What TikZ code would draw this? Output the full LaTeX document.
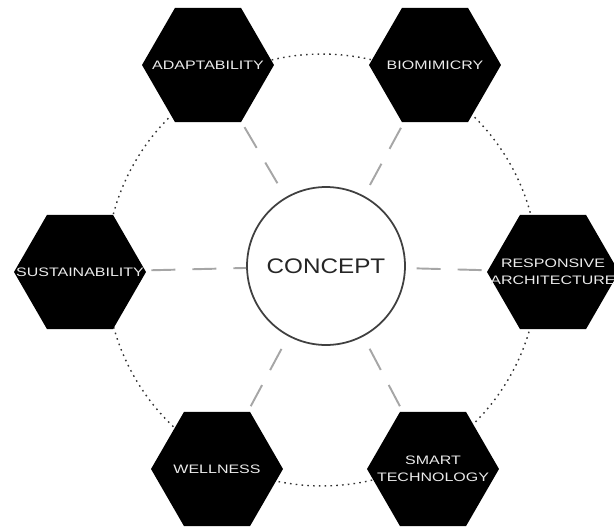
\documentclass[tikz,border=0pt]{standalone}
\usepackage{fontspec}
\setmainfont{Liberation Sans}
\newfontfamily\hexfont[FakeStretch=1.3]{Liberation Sans}
\newfontfamily\midfont[FakeStretch=1.15]{Liberation Sans}
\usetikzlibrary{shapes.geometric}

\begin{document}
\begin{tikzpicture}[x=0.02cm,y=-0.02cm,
 hx/.style={regular polygon,regular polygon sides=6,fill=black,inner sep=0pt,minimum size=2.64cm},
 ht/.style={text=white!92!black,align=center,inner sep=0pt,font=\hexfont\fontsize{7}{9.5}\selectfont},
 lk/.style={draw=gray!70,line width=1.1pt,dash pattern=on 0.48cm off 0.34cm,shorten <=0.12cm}]
\useasboundingbox (0,0) rectangle (614,530);
\draw[gray!40!black,line width=0.8pt,dash pattern=on 0.9pt off 2.4pt] (322,270) circle [radius=4.32cm];
\node[draw=black!75,line width=1pt,circle,minimum size=3.16cm,fill=white,
 font=\midfont\fontsize{12}{14}\selectfont,text=black!85] (c) at (326,266) {CONCEPT};
\node[hx,label={[ht]center:ADAPTABILITY}] (ad) at (208,65) {};
\node[hx,label={[ht]center:BIOMIMICRY}] (bi) at (435,65) {};
\node[hx,label={[ht]center:SUSTAINABILITY}] (su) at (80,272) {};
\node[hx,label={[ht]center:RESPONSIVE\\ARCHITECTURE}] (re) at (553,272) {};
\node[hx,label={[ht]center:WELLNESS}] (we) at (217,469) {};
\node[hx,label={[ht]center:SMART\\TECHNOLOGY}] (sm) at (433,469) {};
\draw[lk] (ad)--(c);
\draw[lk] (bi)--(c);
\draw[lk] (su)--(c);
\draw[lk] (re)--(c);
\draw[lk] (we)--(c);
\draw[lk] (sm)--(c);
\end{tikzpicture}
\end{document}
